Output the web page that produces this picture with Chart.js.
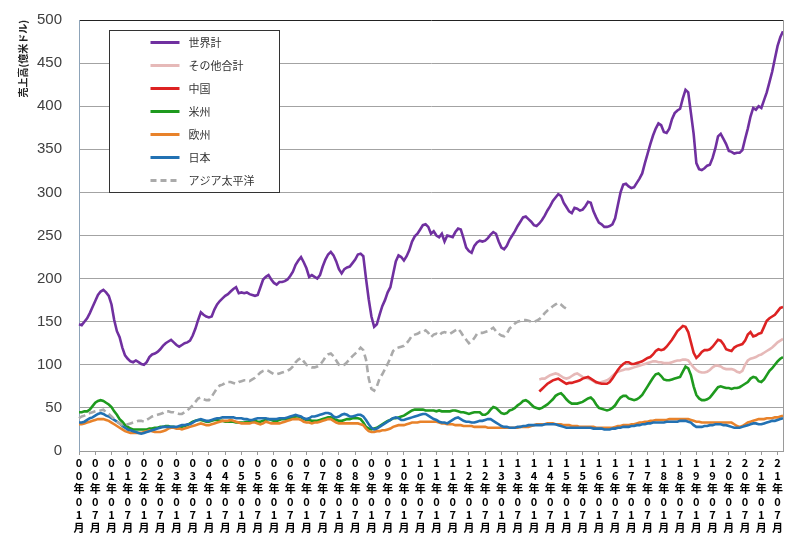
<!DOCTYPE html>
<html>
<head>
<meta charset="utf-8">
<script src="https://cdn.jsdelivr.net/npm/chart.js@4.4.1/dist/chart.umd.min.js"></script>
<style>
  html, body { margin: 0; padding: 0; background: #ffffff; }
  #wrap { width: 800px; height: 541px; position: relative; }
</style>
</head>
<body>
<div id="wrap"><canvas id="c"></canvas></div>
<script>
// ---- categories: monthly from Jan 2000, 261 months (to Sep 2021) ----
const startYear = 2000;
const monthCount = 261;
const categories = [];
for (let i = 0; i < monthCount; i++) {
  const y = (startYear + Math.floor(i / 12)) % 100;
  const m = (i % 12) + 1;
  categories.push(String(y).padStart(2, '0') + '年' + String(m).padStart(2, '0') + '月');
}

// ---- y-axis ticks ----
const yTicks = [0, 50, 100, 150, 200, 250, 300, 350, 400, 450, 500];

// ---- series (億米ドル) ----
const seriesNames = ['世界計', 'その他合計', '中国', '米州', '欧州', '日本', 'アジア太平洋'];

const world = [
  147,146,150,154,160,167,174,181,185,187,184,180,
  170,152,139,132,120,111,107,104,103,105,103,101,
  100,103,109,112,113,115,118,122,125,127,129,126,
  123,121,123,125,126,128,134,142,152,161,158,156,
  155,156,164,170,174,177,180,182,185,188,190,183,
  184,183,184,182,181,180,181,190,199,202,204,199,
  195,193,196,196,197,199,203,208,216,221,225,219,
  212,202,204,202,200,204,214,222,228,231,227,220,
  211,206,211,213,214,218,222,228,229,226,200,176,
  156,144,147,158,168,175,184,190,205,220,227,225,
  221,226,233,243,249,252,257,262,263,260,252,255,
  250,248,252,243,250,249,248,254,258,257,247,236,
  232,230,238,242,244,243,244,247,251,254,252,243,
  236,234,238,245,250,255,261,266,271,272,269,266,
  262,261,264,268,273,279,284,290,294,298,296,288,
  283,278,276,282,281,279,280,284,289,288,278,271,
  265,263,260,260,261,263,270,285,300,309,310,307,
  305,306,311,316,322,334,345,356,366,374,380,378,
  370,369,374,385,392,395,397,409,419,416,392,368,
  334,327,326,328,331,332,340,351,365,368,362,356,
  348,347,345,346,346,349,362,374,388,398,396,400,
  398,407,416,428,440,455,470,480,487
];

// その他合計 and 中国 start at Mar 2014 (index 170)
const splitStart = 170;
const otherTotal = [
  83,84,84,86,88,89,90,89,87,85,
  84,85,87,89,90,88,86,85,84,83,81,79,
  79,80,81,82,84,87,90,92,93,94,95,95,
  96,97,98,99,100,101,102,103,104,104,103,103,
  102,102,102,103,104,105,105,106,106,105,101,97,
  94,92,91,91,92,94,97,99,99,98,96,95,
  95,95,94,92,91,93,100,105,107,108,109,111,
  112,114,116,118,120,123,126,128,130
];
const china = [
  69,72,75,78,80,82,83,84,82,80,
  78,79,79,80,81,82,84,85,86,84,82,80,
  79,78,78,78,80,84,89,94,98,101,103,103,
  101,101,102,103,104,106,108,109,112,116,118,117,
  118,121,125,129,134,139,142,145,144,138,126,114,
  108,111,115,117,117,118,121,125,129,128,124,118,
  117,116,120,122,123,124,128,135,138,133,134,136,
  137,144,151,154,156,158,162,166,167
];

const americas = [
  45,45,46,46,48,52,56,58,59,58,56,54,
  51,46,42,37,34,30,28,26,25,25,25,25,
  25,25,26,26,27,27,28,28,29,29,28,28,
  27,27,28,29,30,32,34,35,36,36,35,34,
  34,35,36,36,35,35,34,34,34,34,33,33,
  33,33,34,34,35,35,34,34,35,36,37,36,
  35,35,36,37,37,37,38,39,40,40,39,37,
  36,36,35,35,35,36,37,38,39,39,37,36,
  35,35,36,37,37,38,38,38,37,33,28,26,
  25,26,27,29,31,33,35,36,38,38,39,40,
  41,43,45,47,48,48,48,48,47,47,47,47,
  46,47,46,46,46,46,47,47,46,45,45,44,
  43,44,45,45,45,42,42,44,48,51,50,47,
  44,43,44,47,48,50,53,55,58,59,57,54,
  51,50,49,50,52,54,57,60,64,66,67,64,
  60,57,55,55,55,56,57,59,61,62,59,54,
  50,49,48,47,48,50,53,58,62,64,64,61,
  60,59,60,62,65,70,75,80,85,89,90,87,
  83,82,82,83,84,85,86,92,98,96,88,75,
  65,61,59,59,60,62,66,70,74,75,74,73,
  73,72,73,73,74,76,78,80,84,86,85,81,
  80,83,88,93,96,100,104,107,109
];

const europe = [
  31,31,32,33,34,35,36,37,37,37,36,35,
  33,31,29,27,25,23,22,21,21,21,21,21,
  22,23,24,23,22,22,22,23,24,26,27,27,
  26,26,25,26,27,28,29,30,31,32,31,30,
  30,31,32,33,34,35,35,35,36,35,34,33,
  32,32,32,32,33,33,32,31,32,34,33,32,
  32,32,32,33,34,35,36,37,37,37,36,34,
  33,33,32,33,33,34,35,36,37,37,35,33,
  32,32,32,32,32,32,32,32,31,30,26,23,
  22,22,23,23,24,24,25,26,28,29,30,30,
  30,31,32,33,33,33,34,34,34,34,34,34,
  34,33,32,32,31,31,31,30,30,30,29,29,
  29,29,28,28,28,28,28,27,27,27,27,27,
  27,27,27,27,27,27,27,28,28,28,28,29,
  30,31,31,31,31,32,32,32,31,31,31,30,
  30,30,29,29,29,28,28,28,28,28,28,27,
  27,27,27,27,27,27,28,29,29,30,30,30,
  31,31,32,33,33,34,34,35,35,36,36,36,
  36,36,37,37,37,37,37,37,37,37,36,35,
  34,34,33,33,33,33,33,33,33,33,33,33,
  33,33,31,29,28,29,31,33,34,35,36,37,
  37,37,38,38,38,39,39,40,41
];

const japan = [
  33,33,34,36,38,39,41,43,44,43,41,40,
  38,36,34,32,29,27,25,24,23,22,21,20,
  21,22,23,24,25,26,27,28,28,28,28,28,
  28,29,30,30,31,31,33,35,36,37,36,35,
  35,36,37,38,38,39,39,39,39,39,38,38,
  38,37,37,36,36,37,38,38,38,38,37,37,
  37,37,38,38,38,39,40,41,42,41,40,38,
  37,38,40,40,41,42,43,44,44,43,40,39,
  40,42,43,42,40,40,41,42,42,40,36,31,
  27,25,26,28,30,32,34,36,38,39,38,36,
  36,37,38,39,40,41,42,43,43,41,39,37,
  36,34,33,33,32,34,36,38,39,37,35,34,
  34,33,33,34,35,35,36,37,37,35,33,31,
  29,28,28,27,27,27,28,28,29,29,30,30,
  30,30,30,30,31,31,31,31,31,30,29,28,
  27,27,27,27,27,27,27,27,27,27,26,26,
  26,26,25,25,25,26,26,27,27,28,28,28,
  29,29,30,30,31,31,32,32,33,33,33,33,
  33,34,34,34,34,34,35,35,35,34,33,30,
  28,28,28,29,29,30,30,31,31,31,30,30,
  29,28,27,27,27,28,29,30,31,32,32,31,
  31,32,33,34,35,35,36,37,38
];

// アジア太平洋: Jan 2000 to Jan 2015
const asiaPacific = [
  38,40,41,43,44,45,46,47,47,48,45,43,
  40,37,34,32,30,30,31,32,33,34,35,35,
  34,36,38,40,41,42,43,44,46,46,45,45,
  44,43,43,45,47,50,53,57,61,62,60,59,
  59,63,68,73,76,77,79,80,80,79,78,80,
  81,82,82,81,83,85,88,91,93,94,93,91,
  89,89,90,91,92,93,95,98,103,106,108,104,
  100,98,97,97,98,100,104,109,112,113,110,105,
  100,99,100,103,107,110,113,116,120,117,106,84,
  72,70,75,84,89,95,101,108,116,119,120,121,
  122,125,129,134,135,136,138,138,140,137,132,135,
  136,134,137,138,137,136,138,140,142,138,133,129,
  125,127,131,136,137,137,138,139,141,143,139,136,
  134,133,136,142,145,148,150,151,152,152,151,150,
  150,151,153,156,160,163,165,168,170,172,170,167,
  165
];

// ---- build padded data arrays ----
function padFrom(start, arr) {
  const out = new Array(monthCount).fill(null);
  arr.forEach((v, k) => { out[start + k] = v; });
  return out;
}

const colors = ['#7030A0', '#E6B9B8', '#DD2222', '#1E9A1E', '#E8822A', '#2271B3', '#AAAAAA'];
const seriesData = [
  world,
  padFrom(splitStart, otherTotal),
  padFrom(splitStart, china),
  americas,
  europe,
  japan,
  padFrom(0, asiaPacific)
];

const datasets = seriesNames.map((name, i) => ({
  label: name,
  data: seriesData[i],
  borderColor: colors[i],
  backgroundColor: colors[i],
  borderWidth: 2.6,
  borderDash: i === 6 ? [7, 4] : [],
  pointRadius: 0,
  pointHoverRadius: 0,
  tension: 0,
  spanGaps: false,
  fill: false,
  order: seriesNames.length - i
}));

// ---- boxed legend inside plot + right border ----
const boxLegend = {
  id: 'boxLegend',
  afterDraw(chart) {
    const { ctx, chartArea: a } = chart;
    ctx.save();
    // right border of plot area
    ctx.strokeStyle = '#9a9a9a';
    ctx.lineWidth = 1;
    ctx.beginPath();
    ctx.moveTo(Math.round(a.right) + 0.5, a.top);
    ctx.lineTo(Math.round(a.right) + 0.5, a.bottom);
    ctx.stroke();

    const x0 = Math.round(a.left) + 30.5, y0 = Math.round(a.top) + 10.5;
    const w = 170, h = 162;
    ctx.fillStyle = '#ffffff';
    ctx.fillRect(x0, y0, w, h);
    ctx.strokeStyle = '#333333';
    ctx.lineWidth = 1;
    ctx.strokeRect(x0, y0, w, h);

    ctx.font = '11px "Noto Sans CJK JP", sans-serif';
    ctx.textBaseline = 'middle';
    ctx.textAlign = 'left';
    chart.data.datasets.forEach((ds, i) => {
      const y = y0 + 12 + i * 23;
      ctx.strokeStyle = ds.borderColor;
      ctx.lineWidth = 3;
      ctx.setLineDash(ds.borderDash && ds.borderDash.length ? [6, 4] : []);
      ctx.beginPath();
      ctx.moveTo(x0 + 41, y);
      ctx.lineTo(x0 + 70, y);
      ctx.stroke();
      ctx.setLineDash([]);
      ctx.fillStyle = '#333333';
      ctx.fillText(ds.label, x0 + 79, y);
    });
    ctx.restore();
  }
};

new Chart(document.getElementById('c'), {
  type: 'line',
  data: { labels: categories, datasets },
  plugins: [boxLegend],
  options: {
    responsive: true,
    maintainAspectRatio: false,
    animation: false,
    events: [],
    layout: { padding: { top: 20, right: 17, bottom: 0, left: 0 } },
    plugins: {
      legend: { display: false },
      tooltip: { enabled: false },
      title: { display: false }
    },
    scales: {
      x: {
        type: 'category',
        offset: false,
        afterFit(scale) { scale.height = 90; },
        border: { display: true, color: '#9a9a9a', width: 1 },
        grid: {
          drawOnChartArea: false,
          drawTicks: true,
          tickLength: 4,
          color: (ctx) => (ctx.index % 6 === 0 ? '#9a9a9a' : 'rgba(0,0,0,0)')
        },
        ticks: {
          autoSkip: false,
          maxRotation: 0,
          minRotation: 0,
          padding: 1,
          color: '#000000',
          font: { family: '"Noto Sans CJK JP", sans-serif', size: 11, weight: 'bold', lineHeight: '13px' },
          callback: (value, index) => (index % 6 === 0 ? categories[index].split('') : '')
        }
      },
      y: {
        min: yTicks[0],
        max: yTicks[yTicks.length - 1],
        afterFit(scale) { scale.width = 79; scale.paddingTop = 0; scale.paddingBottom = 0; },
        afterBuildTicks(scale) { scale.ticks = yTicks.map(v => ({ value: v })); },
        border: { display: true, color: '#8DA3B8', width: 1 },
        grid: {
          drawTicks: false,
          color: (ctx) => (ctx.tick && ctx.tick.value === 500 ? '#222222' : '#a3a3a3'),
          lineWidth: 1
        },
        ticks: {
          padding: 17,
          color: '#404040',
          font: { family: '"Liberation Sans", Arial, sans-serif', size: 15 }
        },
        title: {
          display: true,
          text: '売上高(億米ドル)',
          align: 'end',
          color: '#222222',
          font: { family: '"Noto Sans CJK JP", sans-serif', size: 10, weight: 'bold' },
          padding: { top: 17, bottom: 0 }
        }
      }
    }
  }
});
</script>
</body>
</html>
